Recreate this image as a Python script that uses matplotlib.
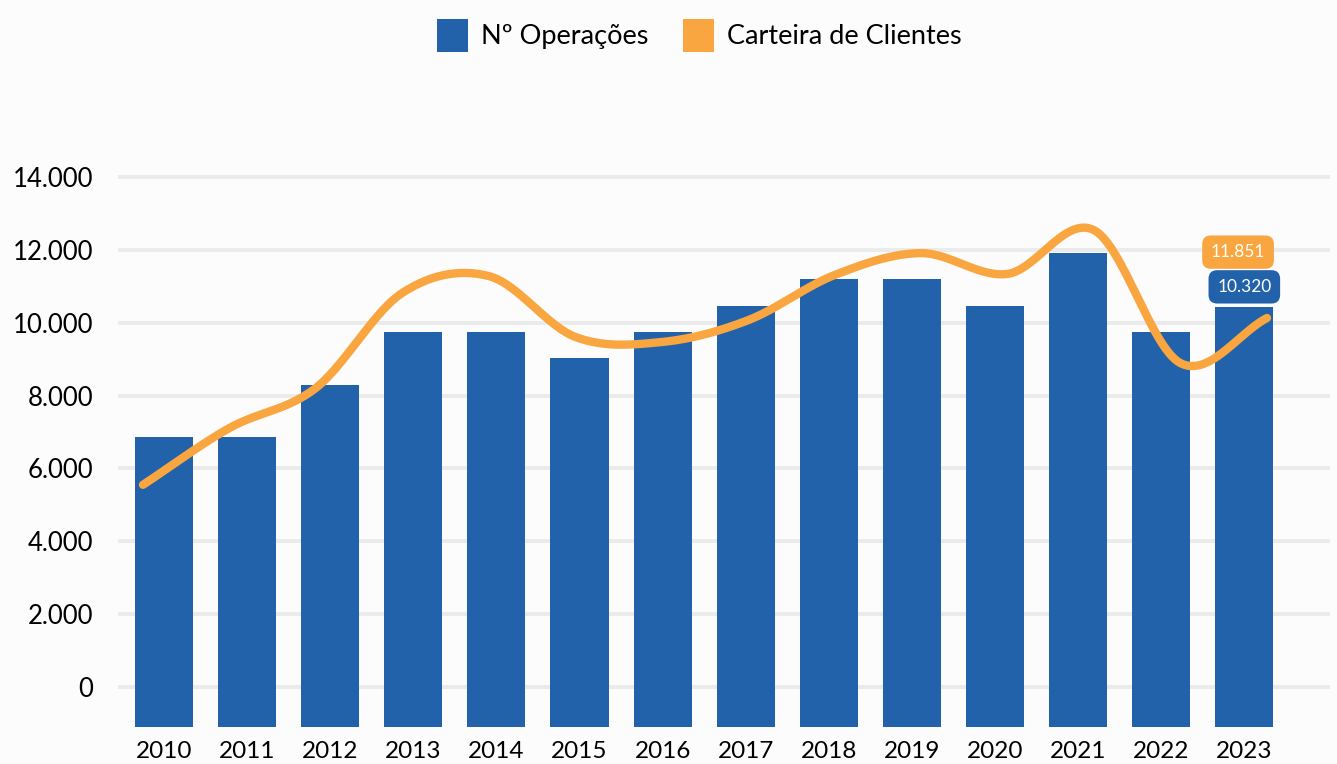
import numpy as np
import matplotlib
matplotlib.use("Agg")
import matplotlib.pyplot as plt
from matplotlib.patches import Patch

years = ["2010", "2011", "2012", "2013", "2014", "2015", "2016",
         "2017", "2018", "2019", "2020", "2021", "2022", "2023"]
operacoes = [7130, 7130, 8400, 9700, 9700, 9070, 9700,
             10340, 11000, 11000, 10340, 11650, 9700, 10320]
carteira = [5550, 7110, 8210, 10820, 11280, 9610, 9470,
            10070, 11310, 11910, 11340, 12540, 8890, 10130]
y_ticks = [0, 2000, 4000, 6000, 8000, 10000, 12000, 14000]
label_ops = "10.320"
label_cart = "11.851"

BLUE = "#2262AA"
ORANGE = "#F9A641"
BG = "#FCFCFC"
GRID = "#EBEBEB"

plt.rcParams["font.family"] = ["Lato", "DejaVu Sans"]

W, H = 1337, 764
fig = plt.figure(figsize=(W / 100, H / 100), dpi=100, facecolor=BG)

left, right, bottom, top = 118, 1330, 727, 170
rect = [left / W, (H - bottom) / H, (right - left) / W, (bottom - top) / H]

# base axes: y scale, grid, tick labels
ax = fig.add_axes(rect, facecolor=BG, zorder=0)
ax.set_ylim(-1098, 14192)
ax.set_xlim(0, 1)
ax.set_yticks(y_ticks)
ax.set_yticklabels([f"{v:,}".replace(",", ".") for v in y_ticks], fontsize=18.5)
ax.tick_params(axis="y", length=0, pad=18)
ax.set_xticks([])
for v in y_ticks:
    ax.axhline(v, color=GRID, lw=2.8, zorder=0)
for s in ax.spines.values():
    s.set_visible(False)

# bar axes
axb = fig.add_axes(rect, zorder=1)
axb.patch.set_alpha(0)
xb = np.arange(len(years))
axb.bar(xb, operacoes, width=0.70, color=BLUE, zorder=2)
axb.set_xlim(-0.5535, 14.031)
axb.set_ylim(0, 13686)
axb.set_xticks(xb)
axb.set_xticklabels(years, fontsize=17.5)
axb.tick_params(axis="x", length=0, pad=10)
axb.set_yticks([])
for s in axb.spines.values():
    s.set_visible(False)

# line axes
axl = fig.add_axes(rect, zorder=2)
axl.patch.set_alpha(0)
xl = np.arange(len(carteira), dtype=float)
yl = np.array(carteira, dtype=float)

def catmull(x, y, n=30):
    xs, ys = [], []
    m = np.zeros_like(y)
    m[1:-1] = (y[2:] - y[:-2]) / 2.0
    m[0] = y[1] - y[0]
    m[-1] = y[-1] - y[-2]
    for i in range(len(x) - 1):
        t = np.linspace(0, 1, n, endpoint=False)
        h00 = 2 * t**3 - 3 * t**2 + 1
        h10 = t**3 - 2 * t**2 + t
        h01 = -2 * t**3 + 3 * t**2
        h11 = t**3 - t**2
        ys.append(h00 * y[i] + h10 * m[i] + h01 * y[i + 1] + h11 * m[i + 1])
        xs.append(x[i] + t * (x[i + 1] - x[i]))
    xs.append([x[-1]]); ys.append([y[-1]])
    return np.concatenate(xs), np.concatenate(ys)

sx, sy = catmull(xl, yl)
axl.plot(sx, sy, color=ORANGE, lw=6, solid_capstyle="round", zorder=3)
axl.set_xlim(-0.289, 13.729)
axl.set_ylim(-1098, 14192)
axl.set_xticks([]); axl.set_yticks([])
for s in axl.spines.values():
    s.set_visible(False)

# value labels
axb.annotate(label_ops, (xb[-1], operacoes[-1]), xytext=(0, 14.5), textcoords="offset points",
             ha="center", va="center", color="white", fontsize=12.5,
             bbox=dict(boxstyle="round,pad=0.5,rounding_size=0.5", fc=BLUE, ec="none"), zorder=5)
axb.annotate(label_cart, (xb[-1], operacoes[-1]), xytext=(-4.5, 39.5), textcoords="offset points",
             ha="center", va="center", color="white", fontsize=12.5,
             bbox=dict(boxstyle="round,pad=0.5,rounding_size=0.5", fc=ORANGE, ec="none"), zorder=5)

handles = [Patch(facecolor=BLUE, label="Nº Operações"),
           Patch(facecolor=ORANGE, label="Carteira de Clientes")]
fig.legend(handles=handles, loc="upper center", bbox_to_anchor=(0.523, 1.0), ncol=2,
           frameon=False, fontsize=19.5, handlelength=1.15, handleheight=1.5,
           handletextpad=0.45, columnspacing=1.3, borderaxespad=0.3)

fig.savefig("out.png", dpi=100, facecolor=BG)
